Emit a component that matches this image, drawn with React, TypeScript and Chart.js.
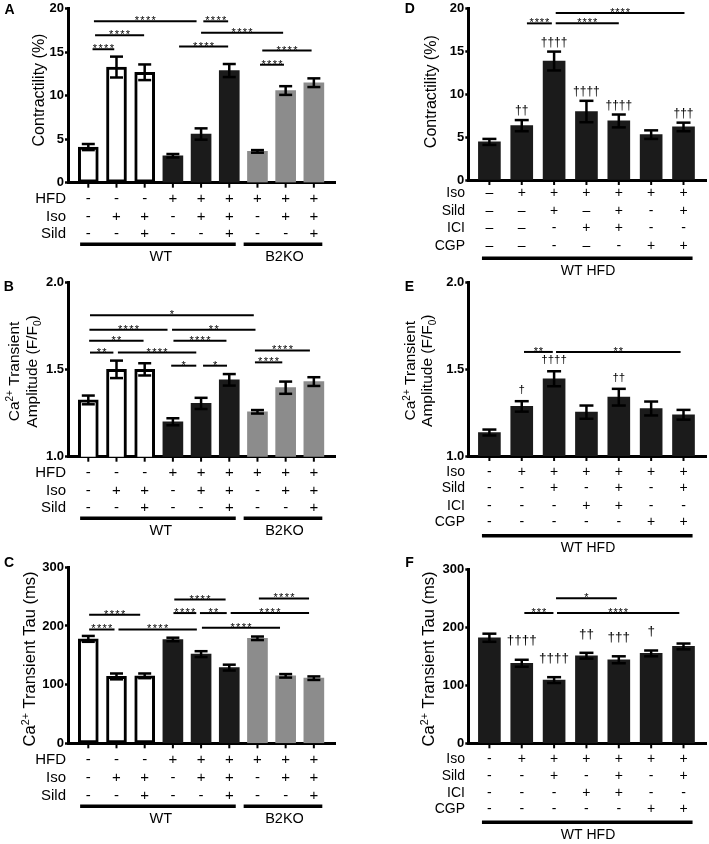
import React, { useEffect, useRef } from 'react';
import { Chart, registerables } from 'chart.js';

Chart.register(...registerables);

const FONT = '"Liberation Sans", Arial, Helvetica, sans-serif';
Chart.defaults.font.family = FONT;

type Sig = [number, number, number, string];
type Dag = [number, string];

// ---------- Panels A–C (WT / B2KO) ----------
const leftRowLabels = ['HFD', 'Iso', 'Sild'];
const leftHFD = ['-', '-', '-', '+', '+', '+', '+', '+', '+'];
const leftIso = ['-', '+', '+', '-', '+', '+', '-', '+', '+'];
const leftSild = ['-', '-', '+', '-', '-', '+', '-', '-', '+'];
const leftGroups: [number, number, string, number][] = [
  [-0.29, 5.23, 'WT', 2.57],
  [5.51, 8.3, 'B2KO', 6.96],
];

const contractilityA = [4.1, 13.3, 12.7, 3.1, 5.6, 12.9, 3.6, 10.6, 11.5];
const contractilityAErr = [0.35, 1.2, 0.9, 0.2, 0.65, 0.75, 0.15, 0.5, 0.5];
const sigA: Sig[] = [
  [0.15, 0.92, 15.35, '****'],
  [0.24, 1.98, 16.97, '****'],
  [0.2, 3.84, 18.56, '****'],
  [4.08, 4.96, 18.56, '****'],
  [3.22, 4.96, 15.65, '****'],
  [4.0, 6.91, 17.24, '****'],
  [6.09, 6.94, 13.57, '****'],
  [6.17, 7.92, 15.19, '****'],
];

const amplitudeB = [1.325, 1.5, 1.5, 1.2, 1.305, 1.44, 1.257, 1.395, 1.43];
const amplitudeBErr = [0.025, 0.05, 0.035, 0.02, 0.032, 0.033, 0.01, 0.035, 0.025];
const sigB: Sig[] = [
  [0.06, 5.87, 1.81, '*'],
  [0.04, 2.81, 1.727, '****'],
  [2.97, 5.93, 1.727, '**'],
  [0.03, 1.96, 1.663, '**'],
  [3.02, 4.9, 1.663, '****'],
  [0.06, 0.89, 1.596, '**'],
  [1.05, 3.83, 1.596, '****'],
  [2.94, 3.83, 1.521, '*'],
  [4.07, 4.92, 1.521, '*'],
  [5.91, 7.86, 1.608, '****'],
  [5.91, 6.88, 1.54, '****'],
];

const tauC = [178, 114, 115, 177, 152, 129, 179, 115, 111];
const tauCErr = [5, 5, 4, 3, 5, 5, 3, 3, 3];
const sigC: Sig[] = [
  [0.03, 0.93, 194, '****'],
  [0.03, 1.84, 219, '****'],
  [1.07, 3.85, 194, '****'],
  [4.03, 6.8, 197, '****'],
  [3.02, 3.83, 222, '****'],
  [3.96, 4.91, 222, '**'],
  [3.05, 4.87, 245, '****'],
  [5.05, 7.83, 222, '****'],
  [6.05, 7.83, 247, '****'],
];

// ---------- Panels D–F (WT HFD) ----------
const rightRowLabels = ['Iso', 'Sild', 'ICI', 'CGP'];
const rightIso = ['–', '+', '+', '+', '+', '+', '+'];
const rightSild = ['–', '–', '+', '–', '+', '-', '+'];
const rightICI = ['–', '–', '-', '+', '+', '-', '-'];
const rightCGP = ['–', '–', '-', '–', '-', '+', '+'];
const rightSimpleIso = ['-', '+', '+', '+', '+', '+', '+'];
const rightSimpleSild = ['-', '-', '+', '-', '+', '-', '+'];
const rightSimpleICI = ['-', '-', '-', '+', '+', '-', '-'];
const rightSimpleCGP = ['-', '-', '-', '-', '-', '+', '+'];
const rightGroups: [number, number, string, number][] = [[-0.23, 6.28, 'WT HFD', 3.05]];

const contractilityD = [4.45, 6.35, 13.9, 8.0, 6.9, 5.3, 6.2];
const contractilityDErr = [0.35, 0.65, 1.1, 1.25, 0.75, 0.5, 0.5];
const sigD: Sig[] = [
  [1.16, 1.93, 18.3, '****'],
  [2.05, 4.0, 18.3, '****'],
  [2.05, 6.03, 19.5, '****'],
];
const daggersD: Dag[] = [[1, '††'], [2, '††††'], [3, '††††'], [4, '††††'], [6, '†††']];

const amplitudeE = [1.135, 1.285, 1.444, 1.252, 1.338, 1.273, 1.237];
const amplitudeEErr = [0.017, 0.03, 0.043, 0.038, 0.048, 0.04, 0.028];
const sigE: Sig[] = [
  [1.07, 1.96, 1.598, '**'],
  [2.06, 5.91, 1.598, '**'],
];
const daggersE: Dag[] = [[1, '†'], [2, '††††'], [4, '††']];

const tauF = [182, 138, 109, 151, 144, 155, 167];
const tauFErr = [7, 6, 5, 5, 6, 5, 5];
const sigF: Sig[] = [
  [2.06, 3.94, 250, '*'],
  [1.08, 1.98, 224.7, '***'],
  [2.09, 5.87, 224.7, '****'],
];
const daggersF: Dag[] = [[1, '††††'], [2, '††††'], [3, '††'], [4, '†††'], [5, '†']];

// ---------- styling ----------
const BLACK = '#1b1b1b';
const GREY = '#8c8c8c';
const leftFills = ['#ffffff', '#ffffff', '#ffffff', BLACK, BLACK, BLACK, GREY, GREY, GREY];
const leftBorders = [3, 3, 3, 0, 0, 0, 0, 0, 0];
const rightFills = Array(7).fill(BLACK);
const rightBorders = Array(7).fill(0);

type Seg = { t: string; sup?: boolean; sub?: boolean };
type TitleLine = { segs: Seg[]; cx: number; cy: number; size: number };

interface PanelCfg {
  letter: string;
  letterPos: [number, number];
  ox: number; oy: number; w: number; h: number;
  L: number; T: number; R: number; B: number;
  xMin: number; xMax: number;
  yMin: number; yMax: number; yStep: number; yDec: number;
  values: number[]; errors: number[];
  fills: string[]; borders: number[];
  barThickness: number; cap: number;
  sigs: Sig[]; starStep: number;
  daggers: Dag[]; daggerSize: number; daggerGap: number;
  rowLabels: string[]; rows: string[][]; rowOffsets: number[]; rowLabelRight: number; tableFont: number;
  groups: [number, number, string, number][]; groupLineOff: number; groupLabelOff: number; groupFont: number;
  titles: TitleLine[];
}

const leftCommon = {
  ox: 0, w: 355, L: 68, R: 335, xMin: -0.72, xMax: 8.75,
  fills: leftFills, borders: leftBorders, barThickness: 20, cap: 6.5,
  starStep: 5.6, daggers: [] as Dag[], daggerSize: 12, daggerGap: 9,
  rowLabels: leftRowLabels, rows: [leftHFD, leftIso, leftSild],
  rowOffsets: [16, 34, 51.5], rowLabelRight: 66, tableFont: 15,
  groups: leftGroups, groupLineOff: 61.5, groupLabelOff: 74, groupFont: 14.5,
};
const rightCommon = {
  ox: 355, w: 354, L: 468.3, R: 706.7, xMin: -0.652, xMax: 6.717,
  fills: rightFills, borders: rightBorders, barThickness: 22, cap: 7,
  starStep: 5.2, rowLabels: rightRowLabels,
  rowOffsets: [15, 32, 49, 66], rowLabelRight: 465, tableFont: 14,
  groups: rightGroups, groupLineOff: 79, groupLabelOff: 91.5, groupFont: 14,
};

const caTransient = (rest: string): Seg[] => [{ t: 'Ca' }, { t: '2+', sup: true }, { t: rest }];
const ampLine: Seg[] = [{ t: 'Amplitude (F/F' }, { t: '0', sub: true }, { t: ')' }];

const panels: PanelCfg[] = [
  {
    ...leftCommon, letter: 'A', letterPos: [9.5, 10], oy: 0, h: 280, T: 6.7, B: 182.7,
    yMin: 0, yMax: 20, yStep: 5, yDec: 0, values: contractilityA, errors: contractilityAErr, sigs: sigA,
    titles: [{ segs: [{ t: 'Contractility (%)' }], cx: 38.3, cy: 90, size: 16 }],
  },
  {
    ...leftCommon, letter: 'B', letterPos: [8.7, 286.7], oy: 272, h: 285, T: 282, B: 456.7,
    yMin: 1, yMax: 2, yStep: 0.5, yDec: 1, values: amplitudeB, errors: amplitudeBErr, sigs: sigB,
    titles: [
      { segs: caTransient(' Transient'), cx: 13.5, cy: 371.5, size: 15.5 },
      { segs: ampLine, cx: 31.7, cy: 371.5, size: 15.5 },
    ],
  },
  {
    ...leftCommon, letter: 'C', letterPos: [9, 563], oy: 555, h: 289, T: 567.3, B: 743.3,
    yMin: 0, yMax: 300, yStep: 100, yDec: 0, values: tauC, errors: tauCErr, sigs: sigC,
    rowOffsets: [17, 35, 52.5], groupLineOff: 63, groupLabelOff: 76,
    titles: [{ segs: caTransient(' Transient Tau (ms)'), cx: 29, cy: 659, size: 16.5 }],
  },
  {
    ...rightCommon, letter: 'D', letterPos: [409.7, 9.5], oy: 0, h: 280, T: 6.5, B: 180,
    yMin: 0, yMax: 20, yStep: 5, yDec: 0, values: contractilityD, errors: contractilityDErr, sigs: sigD,
    daggers: daggersD, daggerSize: 12, daggerGap: 9,
    rows: [rightIso, rightSild, rightICI, rightCGP], rowOffsets: [13.5, 31, 48.5, 66], groupLineOff: 78.3, groupLabelOff: 90.7,
    titles: [{ segs: [{ t: 'Contractility (%)' }], cx: 430, cy: 91.7, size: 16 }],
  },
  {
    ...rightCommon, letter: 'E', letterPos: [409.5, 286.7], oy: 272, h: 285, T: 282, B: 456,
    yMin: 1, yMax: 2, yStep: 0.5, yDec: 1, values: amplitudeE, errors: amplitudeEErr, sigs: sigE,
    daggers: daggersE, daggerSize: 11.5, daggerGap: 11.5,
    rows: [rightSimpleIso, rightSimpleSild, rightSimpleICI, rightSimpleCGP], rowOffsets: [15.7, 32.3, 49.7, 66.3], groupLineOff: 79.7, groupLabelOff: 91.7,
    titles: [
      { segs: caTransient(' Transient'), cx: 410, cy: 370.7, size: 15.5 },
      { segs: ampLine, cx: 426.7, cy: 370.7, size: 15.5 },
    ],
  },
  {
    ...rightCommon, letter: 'F', letterPos: [409.5, 563], oy: 555, h: 289, T: 569.3, B: 743.3,
    yMin: 0, yMax: 300, yStep: 100, yDec: 0, values: tauF, errors: tauFErr, sigs: sigF,
    daggers: daggersF, daggerSize: 13.5, daggerGap: 19,
    rows: [rightSimpleIso, rightSimpleSild, rightSimpleICI, rightSimpleCGP], rowOffsets: [15.7, 32.7, 49.4, 66], groupLineOff: 79, groupLabelOff: 91.7,
    titles: [{ segs: caTransient(' Transient Tau (ms)'), cx: 428, cy: 659, size: 16.5 }],
  },
];

function drawRich(ctx: CanvasRenderingContext2D, segs: Seg[], cx: number, cy: number, size: number) {
  ctx.save();
  ctx.translate(cx, cy);
  ctx.rotate(-Math.PI / 2);
  ctx.fillStyle = '#000';
  ctx.textAlign = 'left';
  ctx.textBaseline = 'alphabetic';
  const parts = segs.map((s) => {
    const sz = s.sup || s.sub ? size * 0.65 : size;
    ctx.font = `${sz}px ${FONT}`;
    return { ...s, sz, w: ctx.measureText(s.t).width };
  });
  const total = parts.reduce((a, p) => a + p.w, 0);
  let x = -total / 2;
  const base = size * 0.35;
  for (const p of parts) {
    ctx.font = `${p.sz}px ${FONT}`;
    const dy = p.sup ? -size * 0.38 : p.sub ? size * 0.22 : 0;
    ctx.fillText(p.t, x, base + dy);
    x += p.w;
  }
  ctx.restore();
}

function line(ctx: CanvasRenderingContext2D, x1: number, y1: number, x2: number, y2: number) {
  ctx.beginPath();
  ctx.moveTo(x1, y1);
  ctx.lineTo(x2, y2);
  ctx.stroke();
}

function buildChart(canvas: HTMLCanvasElement, c: PanelCfg) {
  const L = c.L - c.ox, T = c.T - c.oy, R = c.R - c.ox, B = c.B - c.oy;
  const extras = {
    id: 'extras' + c.letter,
    afterDatasetsDraw(chart: any) {
      const ctx: CanvasRenderingContext2D = chart.ctx;
      const xs = chart.scales.x, ys = chart.scales.y;
      const bottom = chart.chartArea.bottom;
      ctx.save();
      ctx.strokeStyle = '#000';
      ctx.fillStyle = '#000';
      // error bars
      ctx.lineWidth = 2.5;
      c.values.forEach((v, i) => {
        const x = xs.getPixelForValue(i);
        const yt = ys.getPixelForValue(v + c.errors[i]);
        const yb = ys.getPixelForValue(v - c.errors[i]);
        line(ctx, x, yt, x, yb);
        line(ctx, x - c.cap, yt, x + c.cap, yt);
        line(ctx, x - c.cap, yb, x + c.cap, yb);
      });
      // x tick marks
      ctx.lineWidth = 2;
      c.values.forEach((_, i) => {
        const x = xs.getPixelForValue(i);
        line(ctx, x, bottom + 1, x, bottom + 5);
      });
      // significance lines
      ctx.lineWidth = 2;
      ctx.font = `11px ${FONT}`;
      ctx.textAlign = 'center';
      ctx.textBaseline = 'alphabetic';
      c.sigs.forEach(([a, b, v, lab]) => {
        const x1 = xs.getPixelForValue(a);
        const x2 = xs.getPixelForValue(b);
        const y = ys.getPixelForValue(v);
        line(ctx, x1, y, x2, y);
        const mid = (x1 + x2) / 2;
        const n = lab.length;
        for (let k = 0; k < n; k++) {
          ctx.fillText('*', mid + (k - (n - 1) / 2) * c.starStep, y + 3);
        }
      });
      // daggers
      ctx.font = `${c.daggerSize}px ${FONT}`;
      ctx.textBaseline = 'middle';
      c.daggers.forEach(([i, lab]) => {
        const x = xs.getPixelForValue(i);
        const yt = ys.getPixelForValue(c.values[i] + c.errors[i]);
        ctx.fillText(lab, x, yt - c.daggerGap);
      });
      // table
      ctx.font = `${c.tableFont}px ${FONT}`;
      c.rows.forEach((row, r) => {
        const y = bottom + c.rowOffsets[r];
        ctx.textAlign = 'right';
        ctx.fillText(c.rowLabels[r], c.rowLabelRight - c.ox, y);
        ctx.textAlign = 'center';
        row.forEach((s, i) => ctx.fillText(s, xs.getPixelForValue(i), y));
      });
      // group lines
      ctx.lineWidth = 3.5;
      ctx.font = `${c.groupFont}px ${FONT}`;
      ctx.textAlign = 'center';
      c.groups.forEach(([a, b, lab, lx]) => {
        const y = bottom + c.groupLineOff;
        line(ctx, xs.getPixelForValue(a), y, xs.getPixelForValue(b), y);
        ctx.fillText(lab, xs.getPixelForValue(lx), bottom + c.groupLabelOff);
      });
      // titles
      c.titles.forEach((t) => drawRich(ctx, t.segs, t.cx - c.ox, t.cy - c.oy, t.size));
      // panel letter
      ctx.font = `bold 14px ${FONT}`;
      ctx.textAlign = 'center';
      ctx.textBaseline = 'middle';
      ctx.fillText(c.letter, c.letterPos[0] - c.ox, c.letterPos[1] - c.oy);
      ctx.restore();
    },
  };

  return new Chart(canvas, {
    type: 'bar',
    data: {
      datasets: [
        {
          data: c.values.map((v, i) => ({ x: i, y: v })),
          backgroundColor: c.fills,
          borderColor: '#000',
          borderWidth: c.borders,
          borderSkipped: false,
          barThickness: c.barThickness,
        } as any,
      ],
    },
    options: {
      animation: false,
      responsive: false,
      devicePixelRatio: 1,
      layout: { padding: { left: 0, top: T, right: c.w - R, bottom: 0 } },
      plugins: { legend: { display: false }, tooltip: { enabled: false } },
      scales: {
        x: {
          type: 'linear',
          min: c.xMin,
          max: c.xMax,
          offset: false,
          grid: { display: false, offset: false },
          ticks: { display: false },
          border: { display: true, width: 3, color: '#000' },
          afterFit: (s: any) => { s.height = c.h - B; },
        },
        y: {
          type: 'linear',
          min: c.yMin,
          max: c.yMax,
          ticks: {
            stepSize: c.yStep,
            color: '#000',
            padding: 1,
            font: { family: FONT, size: 13, weight: 'bold' },
            callback: (v: any) => Number(v).toFixed(c.yDec),
          },
          grid: { drawOnChartArea: false, drawTicks: true, tickLength: 3, tickWidth: 2.5, tickColor: '#000', color: '#000' },
          border: { display: true, width: 3, color: '#000' },
          afterFit: (s: any) => { s.width = L; },
        },
      },
    } as any,
    plugins: [extras],
  });
}

function Panel({ cfg }: { cfg: PanelCfg }) {
  const ref = useRef<HTMLCanvasElement>(null);
  useEffect(() => {
    if (!ref.current) return;
    const chart = buildChart(ref.current, cfg);
    return () => chart.destroy();
  }, [cfg]);
  return (
    <canvas
      ref={ref}
      width={cfg.w}
      height={cfg.h}
      style={{ position: 'absolute', left: cfg.ox, top: cfg.oy, width: cfg.w, height: cfg.h }}
    />
  );
}

export default function App() {
  return (
    <div style={{ position: 'absolute', left: 0, top: 0, width: 709, height: 844, background: '#fff', overflow: 'hidden' }}>
      {panels.map((p) => (
        <Panel key={p.letter} cfg={p} />
      ))}
    </div>
  );
}
